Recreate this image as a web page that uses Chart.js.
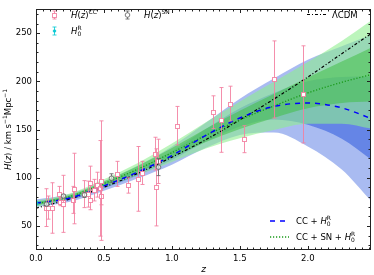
<!DOCTYPE html>
<html>
<head>
<meta charset="utf-8">
<script src="https://cdn.jsdelivr.net/npm/chart.js@4"></script>
<style>
html, body { margin: 0; padding: 0; background: #fff; }
</style>
</head>
<body>
<canvas id="myChart" width="374" height="275"></canvas>
<script>
// reconstructed H(z) on a redshift grid
var zGrid  = [0, 0.25, 0.5, 0.75, 1.0, 1.25, 1.5, 1.75, 2.0, 2.25, 2.465];
var lcdm   = [68.5, 78, 90.2, 104.6, 121.3, 139.5, 160, 181.6, 204.5, 228.7, 249.5];

// CC + H0R
var bMean  = [73.5, 79, 91.5, 106, 123, 144, 162, 174, 177.5, 172.5, 161.5];
var b1Hi   = [75.5, 81, 94, 109.3, 127.7, 150.5, 172, 188, 200, 204.5, 205];
var b1Lo   = [71.5, 77, 89, 102.7, 118.3, 137.5, 153.2, 160.5, 155, 140.5, 119];
var b2Hi   = [77.5, 83, 96.5, 112.6, 132.4, 157, 182, 203, 222.5, 236.5, 248];
var b2Lo   = [69.5, 75, 86.5, 99.4, 113.6, 131, 144.4, 147, 132.5, 108.5, 76];

// CC + SN + H0R
var gMean  = [73, 80.5, 94, 109, 126, 144, 160, 174.5, 188, 199, 207];
var g1Hi   = [74.5, 82.1, 96.2, 112.2, 130.8, 150.8, 169.5, 187, 204, 220.5, 235];
var g1Lo   = [71.5, 78.9, 91.8, 105.8, 121.2, 137.2, 150.5, 162, 172, 177.5, 179];
var g2Hi   = [76, 83.7, 98.4, 115.4, 135.6, 157.6, 179, 199.5, 220, 242, 263];
var g2Lo   = [70, 77.3, 89.6, 102.6, 116.4, 130.4, 141, 149.5, 156, 156, 151];

// cosmic chronometers
var ccZ   = [0.07, 0.09, 0.12, 0.17, 0.179, 0.199, 0.2, 0.27, 0.28, 0.352, 0.3802, 0.4, 0.4004, 0.4247, 0.4497, 0.47,
             0.4783, 0.48, 0.593, 0.68, 0.75, 0.781, 0.875, 0.88, 0.9, 1.037, 1.3, 1.363, 1.43, 1.53, 1.75, 1.965];
var ccH   = [69, 69, 68.6, 83, 75, 75, 72.9, 77, 88.8, 83, 83, 95, 77, 87.1, 92.8, 89,
             80.9, 97, 104, 92, 98.8, 105, 125, 90, 117, 154, 168, 160, 177, 140, 202, 186.5];
var ccErr = [19.6, 12, 26.2, 8, 4, 5, 29.6, 14, 36.6, 14, 13.5, 17, 10.2, 11.2, 12.9, 49.6,
             9, 62, 13, 8, 33.6, 12, 17, 40, 23, 20, 17, 33.6, 18, 14, 40, 50.4];

// supernovae
var snZ   = [0.07, 0.2, 0.35, 0.55, 0.9];
var snH   = [72.6, 81.0, 82.2, 99.5, 111];
var snErr = [1.7, 1.5, 2.7, 4.6, 8.8];

// local H0
var h0Z   = [0];
var h0H   = [73.5];
var h0Err = [1.7];

var xTicks = [0, 0.5, 1.0, 1.5, 2.0];
var yTicks = [50, 100, 150, 200, 250];

var FONT = 'DejaVu Sans';
var FS = 8.5;
var PINK = 'rgba(242,128,160,0.88)';
var GRAY = 'rgba(100,100,100,0.85)';
var CYAN = 'rgba(0,200,210,0.8)';

function pts(arr) {
    var out = [];
    for (var i = 0; i < zGrid.length; i++) out.push({x: zGrid[i], y: arr[i]});
    return out;
}

function line(arr, color, dash, width, order) {
    return {data: pts(arr), borderColor: color, borderDash: dash, borderWidth: width,
            pointRadius: 0, fill: false, order: order, cubicInterpolationMode: 'monotone'};
}

function band(arr, color, order) {
    return {data: pts(arr), borderWidth: 0, borderColor: 'rgba(0,0,0,0)', backgroundColor: color,
            pointRadius: 0, fill: color ? '+1' : false, order: order, cubicInterpolationMode: 'monotone'};
}

function rich(ctx, x, y, parts, size) {
    var x0 = x;
    for (var i = 0; i < parts.length; i++) {
        var p = parts[i];
        if (p.sub !== undefined) {
            ctx.font = (size * 0.7) + 'px "' + FONT + '"';
            var w1 = ctx.measureText(p.sub).width;
            var w2 = ctx.measureText(p.sup).width;
            ctx.fillText(p.sub, x, y + size * 0.22);
            ctx.fillText(p.sup, x, y - size * 0.42);
            x += Math.max(w1, w2);
        } else if (p.sup !== undefined) {
            ctx.font = (size * 0.7) + 'px "' + FONT + '"';
            ctx.fillText(p.sup, x, y - size * 0.42);
            x += ctx.measureText(p.sup).width;
        } else {
            ctx.font = (p.it ? 'italic ' : '') + size + 'px "' + FONT + '"';
            ctx.fillText(p.t, x, y);
            x += ctx.measureText(p.t).width;
        }
    }
    return x - x0;
}

function errBar(ctx, px, p1, p2, col, cap) {
    px = Math.round(px) + 0.5;
    ctx.strokeStyle = col;
    ctx.lineWidth = 1;
    ctx.beginPath();
    ctx.moveTo(px, p1); ctx.lineTo(px, p2);
    ctx.moveTo(px - cap, p1); ctx.lineTo(px + cap, p1);
    ctx.moveTo(px - cap, p2); ctx.lineTo(px + cap, p2);
    ctx.stroke();
}

function square(ctx, px, py, col) {
    px = Math.round(px) + 0.5; py = Math.round(py) + 0.5;
    ctx.fillStyle = '#fff';
    ctx.strokeStyle = col;
    ctx.lineWidth = 1;
    ctx.fillRect(px - 2, py - 2, 4, 4);
    ctx.strokeRect(px - 2, py - 2, 4, 4);
}

function circle(ctx, px, py, r, col, fill) {
    ctx.beginPath();
    ctx.arc(px, py, r, 0, Math.PI * 2);
    ctx.fillStyle = fill;
    ctx.fill();
    ctx.strokeStyle = col;
    ctx.lineWidth = 1;
    ctx.stroke();
}

function drawPoints(ctx, xs, ys, zs, hs, es, kind) {
    for (var i = 0; i < zs.length; i++) {
        var px = xs.getPixelForValue(zs[i]);
        var py = ys.getPixelForValue(hs[i]);
        var col = kind == 'cc' ? PINK : (kind == 'sn' ? GRAY : CYAN);
        errBar(ctx, px, ys.getPixelForValue(hs[i] - es[i]), ys.getPixelForValue(hs[i] + es[i]), col, 2);
        if (kind == 'cc') square(ctx, px, py, col);
        else if (kind == 'sn') circle(ctx, Math.round(px) + 0.5, py, 2.3, col, 'rgba(255,255,255,0.6)');
        else circle(ctx, Math.round(px) + 0.5, py, 1.3, col, CYAN);
    }
}

var decor = {
    id: 'decor',
    afterDatasetsDraw: function(chart) {
        var ctx = chart.ctx, xs = chart.scales.x, ys = chart.scales.y, a = chart.chartArea;
        ctx.save();
        ctx.beginPath();
        ctx.rect(a.left, a.top, a.right - a.left, a.bottom - a.top);
        ctx.clip();
        drawPoints(ctx, xs, ys, ccZ, ccH, ccErr, 'cc');
        drawPoints(ctx, xs, ys, snZ, snH, snErr, 'sn');
        drawPoints(ctx, xs, ys, h0Z, h0H, h0Err, 'h0');
        ctx.restore();
    },
    afterDraw: function(chart) {
        var ctx = chart.ctx, xs = chart.scales.x, ys = chart.scales.y, a = chart.chartArea;
        var L = Math.round(a.left) + 0.5, R = Math.round(a.right) - 0.5;
        var T = Math.round(a.top) + 0.5, B = Math.round(a.bottom) - 0.5;
        ctx.save();
        // frame
        ctx.strokeStyle = '#222';
        ctx.lineWidth = 1;
        ctx.strokeRect(L, T, R - L, B - T);
        // inward ticks on all sides
        ctx.beginPath();
        var v, p, len;
        for (v = 0; v <= xs.max + 1e-9; v += 0.05) {
            p = Math.round(xs.getPixelForValue(v)) + 0.5;
            len = Math.abs(v / 0.5 - Math.round(v / 0.5)) < 1e-6 ? 3.5 : 2;
            ctx.moveTo(p, B); ctx.lineTo(p, B - len);
            ctx.moveTo(p, T); ctx.lineTo(p, T + len);
        }
        for (v = 30; v <= 270; v += 10) {
            p = Math.round(ys.getPixelForValue(v)) + 0.5;
            len = v % 50 == 0 ? 3.5 : 2;
            ctx.moveTo(L, p); ctx.lineTo(L + len, p);
            ctx.moveTo(R, p); ctx.lineTo(R - len, p);
        }
        ctx.stroke();

        ctx.fillStyle = '#000';
        ctx.textBaseline = 'alphabetic';
        ctx.textAlign = 'left';

        // top-left legend
        errBar(ctx, 54, 11, 19, PINK, 2);
        square(ctx, 54, 15, PINK);
        ctx.fillStyle = '#000';
        rich(ctx, 71, 18, [{t: 'H', it: true}, {t: '('}, {t: 'z', it: true}, {t: ')'}, {sup: 'CC'}], FS);
        errBar(ctx, 127, 11, 19, GRAY, 2);
        circle(ctx, 127.5, 15, 2.3, GRAY, '#fff');
        ctx.fillStyle = '#000';
        rich(ctx, 144, 18, [{t: 'H', it: true}, {t: '('}, {t: 'z', it: true}, {t: ')'}, {sup: 'SN'}], FS);
        errBar(ctx, 54, 27, 35, CYAN, 2);
        circle(ctx, 54.5, 31, 1.3, CYAN, CYAN);
        ctx.fillStyle = '#000';
        rich(ctx, 71, 34, [{t: 'H', it: true}, {sub: '0', sup: 'R'}], FS);

        // top-right legend
        ctx.strokeStyle = '#000';
        ctx.lineWidth = 1.2;
        ctx.setLineDash([3, 2, 1, 2]);
        ctx.beginPath(); ctx.moveTo(307, 14.5); ctx.lineTo(326, 14.5); ctx.stroke();
        // bottom-right legend
        ctx.strokeStyle = '#0000ff';
        ctx.lineWidth = 1.5;
        ctx.setLineDash([5, 5]);
        ctx.beginPath(); ctx.moveTo(270, 221); ctx.lineTo(288, 221); ctx.stroke();
        ctx.strokeStyle = '#1a9a1a';
        ctx.lineWidth = 1.3;
        ctx.setLineDash([1.2, 1.8]);
        ctx.beginPath(); ctx.moveTo(270, 237); ctx.lineTo(289, 237); ctx.stroke();
        ctx.setLineDash([]);
        ctx.fillStyle = '#000';
        rich(ctx, 332, 17.5, [{t: '\u039bCDM'}], FS);
        rich(ctx, 296, 224, [{t: 'CC + '}, {t: 'H', it: true}, {sub: '0', sup: 'R'}], FS);
        rich(ctx, 296, 240, [{t: 'CC + SN + '}, {t: 'H', it: true}, {sub: '0', sup: 'R'}], FS);

        // y axis title
        var parts = [{t: 'H', it: true}, {t: '('}, {t: 'z', it: true}, {t: ')'}, {t: ' / km s'}, {sup: '\u22121'}, {t: 'Mpc'}, {sup: '\u22121'}];
        ctx.save();
        ctx.globalAlpha = 0;
        var w = rich(ctx, 0, 0, parts, FS);
        ctx.restore();
        ctx.translate(7.5, (a.top + a.bottom) / 2);
        ctx.rotate(-Math.PI / 2);
        rich(ctx, -w / 2, 3, parts, FS);
        ctx.restore();
    }
};

Chart.defaults.font.family = FONT;
Chart.defaults.font.size = FS;
Chart.defaults.color = '#000';

var ctx = document.getElementById('myChart');

new Chart(ctx, {
    type: 'line',
    data: {
        datasets: [
            line(bMean, '#0000ff', [5, 5], 1.5, 1),
            line(gMean, '#1a9a1a', [1.2, 1.8], 1.3, 2),
            line(lcdm, '#000000', [3, 2, 1, 2], 1.2, 3),
            band(g1Hi, 'rgba(60,190,60,0.5)', 4),
            band(g1Lo, null, 4),
            band(g2Hi, 'rgba(144,238,144,0.6)', 5),
            band(g2Lo, null, 5),
            band(b1Hi, 'rgba(65,105,225,0.65)', 6),
            band(b1Lo, null, 6),
            band(b2Hi, 'rgba(65,105,225,0.45)', 7),
            band(b2Lo, null, 7)
        ]
    },
    options: {
        responsive: false,
        devicePixelRatio: 1,
        animation: false,
        layout: {padding: {top: 3, right: 3, left: 0, bottom: 0}},
        plugins: {legend: {display: false}, tooltip: {enabled: false}},
        scales: {
            x: {
                type: 'linear',
                min: 0,
                max: 2.465,
                grid: {display: false, drawTicks: false},
                border: {display: false},
                afterFit: function(s) { s.height = 25; },
                afterBuildTicks: function(s) { s.ticks = xTicks.map(function(v) { return {value: v}; }); },
                ticks: {padding: 4, maxRotation: 0, callback: function(v) { return v.toFixed(1); }},
                title: {display: true, text: 'z', font: {style: 'italic', size: 9}, padding: {top: 0, bottom: 0}}
            },
            y: {
                min: 25,
                max: 275,
                grid: {display: false, drawTicks: false},
                border: {display: false},
                afterFit: function(s) { s.width = 36; },
                afterBuildTicks: function(s) { s.ticks = yTicks.map(function(v) { return {value: v}; }); },
                ticks: {padding: 4, callback: function(v) { return String(v); }}
            }
        }
    },
    plugins: [decor]
});
</script>
</body>
</html>
